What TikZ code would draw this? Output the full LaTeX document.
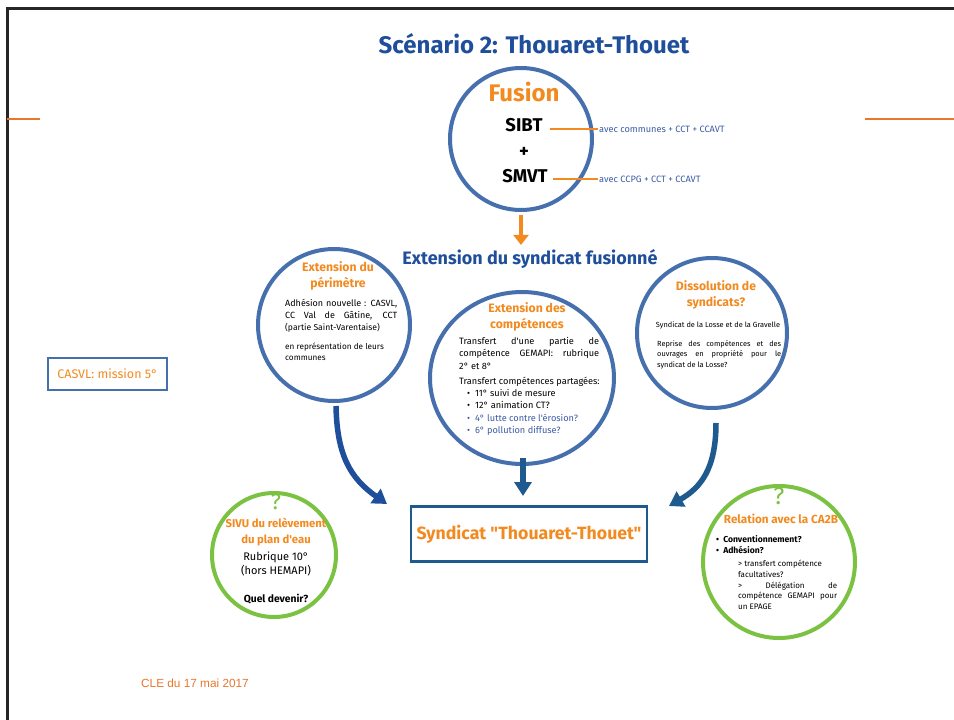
\documentclass[tikz,border=0pt]{standalone}
\usepackage{fontspec}
\setmainfont{Fira Sans}[Ligatures=TeXOff]
\newfontfamily\arialf{Liberation Sans}
\usetikzlibrary{arrows.meta,shapes.geometric}
\definecolor{tblue}{HTML}{1F4E9A}
\definecolor{cblue}{HTML}{4670AD}
\definecolor{aorange}{HTML}{F28A1F}
\definecolor{lorange}{HTML}{E8772E}
\definecolor{agreen}{HTML}{7CC242}
\definecolor{dblue}{HTML}{1E5A8E}
\definecolor{sblue}{HTML}{3B5BA5}
\newcommand{\jline}[2]{\makebox[#1][s]{#2}}
\newcommand{\fs}[2]{\fontsize{#1}{#2}\selectfont}
\tikzset{
  bcirc/.style={circle, draw=cblue, line width=4pt, inner sep=0pt},
  gcirc/.style={circle, draw=agreen, line width=4pt, inner sep=0pt},
  otitle/.style={text=aorange, font=\bfseries\fs{12.2}{16}, align=center, inner sep=0pt},
  body/.style={inner sep=0pt, align=left, anchor=north west},
  barrow/.style={line width=5.5pt, -{Triangle[length=14pt,width=17pt]}},
  oline/.style={draw=aorange, line width=1.3pt}
}
\begin{document}
\begin{tikzpicture}[x=1pt,y=-1pt]
\useasboundingbox (0,0) rectangle (954,720);
\fill[white] (0,0) rectangle (954,720);
% frame
\draw[line width=3pt, black!85] (7,720) -- (7,8) -- (954,8);
\draw[line width=2.5pt, lorange] (7,119) -- (40,119);
\draw[line width=2.5pt, lorange] (865,119) -- (954,119);

% title
\node[text=tblue, font=\bfseries\fs{24}{26}] (title) at (534,44) {Scénario 2: Thouaret-Thouet};

% Fusion circle
\node[bcirc, minimum size=142pt] (fus) at (521,139) {};
\node[text=aorange, font=\bfseries\fs{24}{28}, inner sep=0pt] (fusT) at (524,92) {Fusion};
\node[font=\bfseries\fs{18.5}{22}, inner sep=1pt] (sibt) at (524,125) {SIBT};
\node[font=\bfseries\fs{18.5}{22}, inner sep=0pt] (plus) at (524,152) {+};
\node[font=\bfseries\fs{18.5}{22}, inner sep=1pt] (smvt) at (525,176) {SMVT};
\node[anchor=west, text=sblue, font=\fs{9.2}{10}, inner sep=1pt] (n1) at (598,129) {avec communes + CCT + CCAVT};
\node[anchor=west, text=sblue, font=\fs{9.2}{10}, inner sep=1pt] (n2) at (598,179) {avec CCPG + CCT + CCAVT};
\draw[oline] (sibt.east |- n1.west) ++(6,0) -- (n1.west);
\draw[oline] (smvt.east |- n2.west) ++(4,0) -- (n2.west);

% orange arrow + subtitle
\node[text=tblue, font=\bfseries\fs{18}{20}] (ext) at (530,259) {Extension du syndicat fusionné};
\draw[draw=aorange, line width=4pt, -{Triangle[length=10pt,width=15pt]}, shorten <=3pt, shorten >=1pt] (fus.south) -- (fus.south |- ext.north);

% left circle
\node[bcirc, minimum size=152pt] (lc) at (334,325) {};
\node[otitle] (lcT) at (338,276) {Extension du\\périmètre};
\node[body, font=\fs{9}{11.6}] (lcA) at (285,299) {\jline{112pt}{Adhésion nouvelle : CASVL,}\\\jline{112pt}{CC Val de Gâtine, CCT}};
\node[body, font=\fs{8.6}{10}] (lcB) at (285,323.5) {(partie Saint-Varentaise)};
\node[body, font=\fs{8.2}{10.5}] (lcC) at (285,343) {en représentation de leurs\\communes};

% middle circle
\node[ellipse, draw=cblue, line width=4pt, inner sep=0pt, minimum width=184pt, minimum height=172pt] (mc) at (522,378) {};
\node[otitle] (mcT) at (527,317) {Extension des\\compétences};
\node[body, font=\fs{9.2}{12.6}] (mcA) at (459,337) {\jline{140pt}{Transfert d'une partie de}\\\jline{140pt}{compétence GEMAPI: rubrique}\\2° et 8°};
\node[body, font=\fs{9.2}{12.2}] (mcB) at (459,377) {Transfert compétences partagées:\\
\hspace*{8pt}\textbullet\ \ 11° suivi de mesure\\
\hspace*{8pt}\textbullet\ \ 12° animation CT?\\
\hspace*{8pt}\textcolor{sblue}{\textbullet\ \ 4° lutte contre l'érosion?}\\
\hspace*{8pt}\textcolor{sblue}{\textbullet\ \ 6° pollution diffuse?}};

% right circle
\node[bcirc, minimum size=150pt] (rc) at (712,333) {};
\node[otitle] (rcT) at (716,295) {Dissolution de\\syndicats?};
\node[font=\fs{7.4}{9}, inner sep=0pt] (rcA) at (718,325) {Syndicat de la Losse et de la Gravelle};
\node[body, font=\fs{7.4}{10.5}] (rcB) at (657,340) {\jline{124pt}{Reprise des compétences et des}\\\jline{124pt}{ouvrages en propriété pour le}\\syndicat de la Losse?};

% central box
\node[draw=dblue, line width=2.5pt, minimum width=236pt, minimum height=55pt, text=aorange, font=\bfseries\fs{17.7}{22}] (box) at (529,534) {Syndicat "Thouaret-Thouet"};

% arrows to box
\coordinate (la0) at (336,406);
\coordinate (la1) at (387,504);
\coordinate (ma0) at (523,458);
\coordinate (ma1) at (523,496);
\coordinate (ra0) at (716,423);
\coordinate (ra1) at (669,506);
\draw[barrow, draw=tblue] (la0) .. controls (337,455) and (350,478) .. (la1);
\draw[barrow, draw=dblue] (ma0) -- (ma1);
\draw[barrow, draw=dblue] (ra0) .. controls (716,470) and (700,488) .. (ra1);

% left green circle
\node[gcirc, minimum size=124pt] (gl) at (274,555) {};
\node[text=agreen, font=\fs{22}{24}, inner sep=0pt] (glQ) at (276,502) {?};
\node[text=aorange, font=\bfseries\fs{11.3}{16}, align=center, inner sep=0pt] (glT) at (276,532) {SIVU du relèvement\\du plan d'eau};
\node[font=\fs{11}{14.5}, align=center, inner sep=0pt] (glA) at (276,564) {Rubrique 10°\\(hors HEMAPI)};
\node[font=\bfseries\fs{10.3}{12}, inner sep=0pt] (glB) at (276,599) {Quel devenir?};

% right green circle
\node[gcirc, minimum size=152pt] (gr) at (779,562) {};
\node[text=agreen, font=\fs{24}{26}, inner sep=0pt] (grQ) at (779,496) {?};
\node[text=aorange, font=\bfseries\fs{11.7}{15}, inner sep=0pt] (grT) at (781,519) {Relation avec la CA2B};
\node[body, font=\bfseries\fs{8.6}{11}] (grA) at (716,535) {\textbullet\ \ Conventionnement?\\\textbullet\ \ Adhésion?};
\node[body, font=\fs{8}{10.7}] (grB) at (738,560) {> transfert compétence\\facultatives?\\\jline{99pt}{> Délégation de}\\\jline{99pt}{compétence GEMAPI pour}\\un EPAGE};

% CASVL box
\node[draw=cblue, line width=1.3pt, minimum width=119pt, minimum height=32pt, text=aorange, font=\fs{12.5}{14}] (casvl) at (107.5,374) {CASVL: mission 5°};

% footer
\node[text=lorange, font=\arialf\fs{11.8}{13}, anchor=west, inner sep=0pt] (cle) at (141,683) {CLE du 17 mai 2017};
\end{tikzpicture}
\end{document}
